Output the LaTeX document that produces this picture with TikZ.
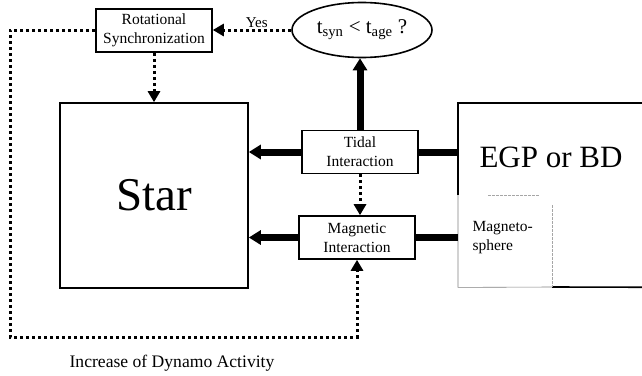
\documentclass[tikz,border=0pt]{standalone}
\usepackage{fontspec}
\setmainfont{Liberation Serif}
\usetikzlibrary{arrows.meta, positioning, calc, shapes.geometric}

\begin{document}
\begin{tikzpicture}[
  x=1pt, y=-1pt,
  procbox/.style={
    rectangle, draw, line width=1.6pt,
    minimum width=116pt, minimum height=43pt,
    align=center, inner sep=2pt,
    font=\fontsize{15.5}{19}\selectfont
  },
  bigbox/.style={rectangle, draw, line width=1.6pt, inner sep=0pt},
  dotline/.style={line width=3pt, dash pattern=on 3pt off 3pt},
  dotflow/.style={dotline, -{Triangle[length=11pt,width=12pt]}},
  fatline/.style={line width=7pt},
  fatarrow/.style={fatline, -{Triangle[length=12pt,width=14pt]}}
]
  \useasboundingbox (0,0) rectangle (642,375);

  % bodies
  \node[bigbox, minimum width=188pt, minimum height=185pt,
    font=\fontsize{47}{50}\selectfont] (star) at (154,195.5) {Star};
  \node[inner sep=0pt, minimum width=250pt, minimum height=184pt,
    anchor=north west] (egp) at (458,103) {};
  \node[font=\fontsize{31}{34}\selectfont] (egplabel) at (551,157) {EGP or BD};
  \draw[line width=1.6pt] (458,195) -- (egp.north west) -- (egp.north east);
  \draw[line width=1.6pt] (552,287) -- (egp.south east);

  % magnetosphere
  \draw[gray, line width=0.6pt] (458,195) -- (egp.south west) -- (552,287);
  \draw[gray!70, line width=0.6pt, dash pattern=on 3pt off 1pt] (488,195) -- (539,195);
  \draw[gray!70, line width=0.6pt, dash pattern=on 3pt off 1pt] (552,205) -- (552,287);
  \node[align=left, anchor=west, font=\fontsize{15.5}{19}\selectfont] (msph) at (469,238) {Magneto-\\sphere};

  % processes
  \node[procbox] (rotsync) at (154,30.5) {Rotational\\Synchronization};
  \node[ellipse, draw, line width=1.6pt, minimum width=140pt, minimum height=55pt,
    inner sep=0pt, font=\fontsize{21}{23}\selectfont] (tsyn) at (362,30)
    {t\textsubscript{syn} < t\textsubscript{age} ?};
  \node[procbox] (tidal) at (360,152) {Tidal\\Interaction};
  \node[procbox] (magnetic) at (357,237.5) {Magnetic\\Interaction};

  % solid couplings
  \draw[fatarrow] (tidal.west) -- (tidal.west -| star.east);
  \draw[fatarrow] (magnetic.west) -- (magnetic.west -| star.east);
  \draw[fatline] (tidal.east) -- (tidal.east -| egp.west);
  \draw[fatline] (magnetic.east) -- (magnetic.east -| egp.west);
  \draw[fatarrow] (tidal.north) -- (tidal.north |- tsyn.south);

  % feedback
  \draw[dotflow] (tsyn.west) -- (tsyn.west -| rotsync.east)
    node[pos=0.44, above, inner sep=1pt, font=\fontsize{15}{17}\selectfont] (yes) {Yes};
  \draw[dotflow] (rotsync.south) -- (rotsync.south |- star.north);
  \draw[dotflow] (tidal.south) -- (tidal.south |- magnetic.north);
  \coordinate (dynamo) at (10,337);
  \draw[dotflow] (rotsync.west) -| (dynamo) -| (magnetic.south);
  \node[font=\fontsize{17.6}{20}\selectfont] (dynamolabel) at (172,363) {Increase of Dynamo Activity};
\end{tikzpicture}
\end{document}
